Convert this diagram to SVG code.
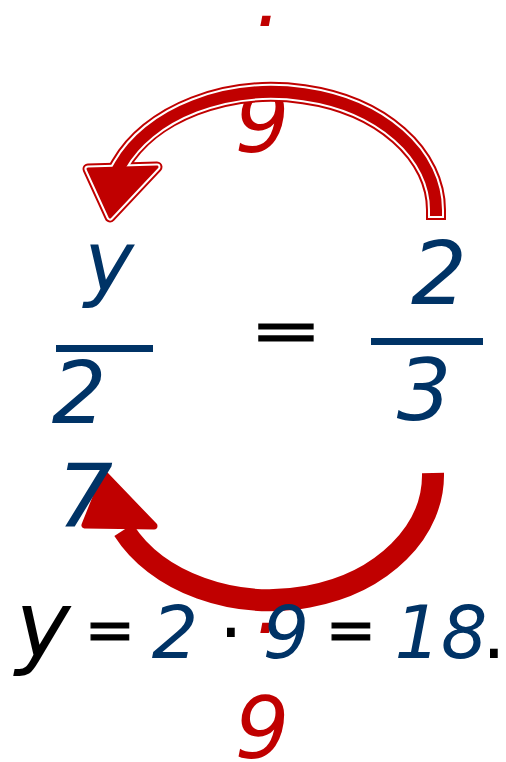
<svg xmlns="http://www.w3.org/2000/svg" width="506" height="762" viewBox="0 0 506 762">
<style>
.t{font-family:"DejaVu Sans","Liberation Sans",sans-serif;font-style:italic;text-anchor:middle}
.b{fill:#003366}
.k{fill:#000}
.r{fill:#C00000}
.up{font-style:normal}
.eq{stroke:#000;stroke-width:1.2}
</style>
<rect width="506" height="762" fill="#fff"/>
<g id="labels-red">
<text class="t r" x="264" y="49" font-size="82">·</text>
<text class="t r" x="262" y="152" font-size="86">9</text>
<text class="t r" x="264" y="656" font-size="82">·</text>
<text class="t r" x="262" y="758" font-size="86">9</text>
</g>
<g id="connectors">
<g id="arrow-top" stroke-linejoin="round">
<path d="M436 210 A164 118 0 0 0 120.4 165" fill="none" stroke="#C00000" stroke-width="20" stroke-linecap="square"/>
<polygon points="110,217 88,169 157,167" fill="#C00000" stroke="#C00000" stroke-width="11"/>
<path d="M436 210 A164 118 0 0 0 120.4 165" fill="none" stroke="#fff" stroke-width="16" stroke-linecap="square"/>
<polygon points="110,217 88,169 157,167" fill="#fff" stroke="#fff" stroke-width="7"/>
<path d="M436 210 A164 118 0 0 0 120.4 165" fill="none" stroke="#C00000" stroke-width="12" stroke-linecap="square"/>
<polygon points="110,217 88,169 157,167" fill="#C00000" stroke="#C00000" stroke-width="3"/>
</g>
<g id="arrow-bottom" stroke-linejoin="round">
<path d="M433 473 A163 125 0 0 1 123.6 530" fill="none" stroke="#C00000" stroke-width="22"/>
<polygon points="105,475 85,525 154,526" fill="#C00000" stroke="#C00000" stroke-width="7"/>
</g>
</g>
<g id="left-fraction">
<text class="t b" x="109" y="291" font-size="84">y</text>
<rect x="56" y="345" width="97" height="7" fill="#003366"/>
<text class="t b" x="79" y="423" font-size="86">2</text>
</g>
<g id="equals">
<text class="t k up eq" transform="translate(286 351) scale(1.43 1)" x="0" y="0" font-size="60">=</text>
</g>
<g id="right-fraction">
<text class="t b" x="439" y="304" font-size="88">2</text>
<rect x="371" y="338" width="112" height="7" fill="#003366"/>
<text class="t b" x="424" y="420" font-size="86">3</text>
</g>
<g id="seven">
<text class="t b" x="85" y="527" font-size="88">7</text>
</g>
<g id="result">
<text class="t k" x="43" y="657" font-size="93">y</text>
<text class="t k up eq" x="110" y="650" font-size="60">=</text>
<text class="t b" x="175" y="658" font-size="73">2</text>
<text class="t k up" x="231" y="658" font-size="75">·</text>
<text class="t b" x="286" y="658" font-size="73">9</text>
<text class="t k up eq" x="351" y="650" font-size="60">=</text>
<text class="t b" x="441" y="658" font-size="73">18</text>
<text class="t k up" x="494" y="658" font-size="75">.</text>
</g>
</svg>
